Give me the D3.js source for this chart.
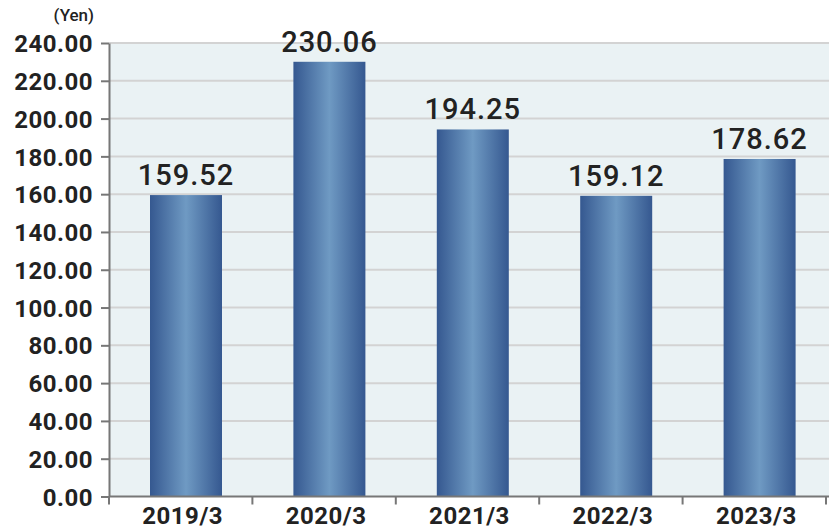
<!DOCTYPE html>
<html><head><meta charset="utf-8">
<script src="https://cdn.jsdelivr.net/npm/d3@7"></script>
<style>
html,body{margin:0;padding:0;background:#fff;}
svg{display:block;font-family:Roboto,"Noto Sans",sans-serif;}
</style></head>
<body><svg id="chart" width="830" height="530"></svg>
<script>
const categories = ["2019/3","2020/3","2021/3","2022/3","2023/3"];
const values = [159.52, 230.06, 194.25, 159.12, 178.62];
const yTicks = [0,20,40,60,80,100,120,140,160,180,200,220,240];
const unitLabel = "(Yen)";

(function(){
const svg = d3.select("#chart");
const mLeft = 109, mRight = 826, mTop = 43, mBottom = 496.5;

const defs = svg.append("defs");
const grad = defs.append("linearGradient").attr("id","barGrad").attr("x1","0").attr("x2","1").attr("y1","0").attr("y2","0");
grad.append("stop").attr("offset","0%").attr("stop-color","#355890");
grad.append("stop").attr("offset","50%").attr("stop-color","#6f9ac3");
grad.append("stop").attr("offset","100%").attr("stop-color","#355890");

const x = d3.scaleBand().domain(categories).range([mLeft, mRight]).padding(0);
const y = d3.scaleLinear().domain([0,240]).range([mBottom, mTop]);

svg.append("rect").attr("x",mLeft).attr("y",mTop).attr("width",829-mLeft).attr("height",mBottom-mTop).attr("fill","#eaf2f4");

// grid
svg.append("g").selectAll("line").data(yTicks.filter(d=>d>0)).join("line")
  .attr("x1",mLeft).attr("x2",829).attr("y1",d=>y(d)).attr("y2",d=>y(d))
  .attr("stroke","#d3d3d3").attr("stroke-width",2);

// bars
const barW = 72, barOff = 41;
svg.append("g").selectAll("rect").data(values).join("rect")
  .attr("x",(d,i)=>x(categories[i])+barOff)
  .attr("width",barW)
  .attr("y",d=>y(d))
  .attr("height",d=>mBottom-y(d))
  .attr("fill","url(#barGrad)");

// value labels
svg.append("g").selectAll("text").data(values).join("text")
  .attr("x",(d,i)=>x(categories[i])+barOff+barW/2)
  .attr("y",d=>y(d)-10)
  .attr("text-anchor","middle")
  .attr("font-size",29).attr("font-weight",500).attr("letter-spacing","1px")
  .attr("fill","#222")
  .text(d=>d.toFixed(2));

// y axis
const yAxis = d3.axisLeft(y).tickValues(yTicks).tickFormat(d=>d.toFixed(2)).tickSize(8).tickSizeOuter(0).tickPadding(8);
const gy = svg.append("g").attr("transform",`translate(${mLeft},0)`).call(yAxis);
gy.select(".domain").attr("stroke","#777").attr("stroke-width",2);
gy.selectAll(".tick line").attr("stroke","#777").attr("stroke-width",2);
gy.selectAll(".tick text").attr("font-size",24).attr("font-weight",700).attr("fill","#222")
  .attr("font-family","Roboto").attr("letter-spacing","0.5px").attr("dy","0.36em");

// x axis
const gx = svg.append("g").attr("transform",`translate(0,${mBottom})`);
gx.append("line").attr("x1",mLeft).attr("x2",829).attr("y1",0).attr("y2",0).attr("stroke","#777").attr("stroke-width",2);
const xTickPos = categories.map(c=>x(c)).concat([x(categories[categories.length-1])+x.bandwidth()]);
gx.selectAll("line.t").data(xTickPos).join("line").attr("class","t")
  .attr("x1",d=>d).attr("x2",d=>d).attr("y1",0).attr("y2",8).attr("stroke","#777").attr("stroke-width",2);
gx.selectAll("text").data(categories).join("text")
  .attr("x",d=>x(d)+x.bandwidth()/2+2)
  .attr("y",27)
  .attr("text-anchor","middle")
  .attr("font-size",24).attr("font-weight",700).attr("fill","#222").attr("letter-spacing","0.5px")
  .text(d=>d);

svg.append("text").attr("x",94).attr("y",21).attr("text-anchor","end")
  .attr("font-size",17).attr("font-weight",500).attr("fill","#222").text(unitLabel);
})();
</script></body></html>
